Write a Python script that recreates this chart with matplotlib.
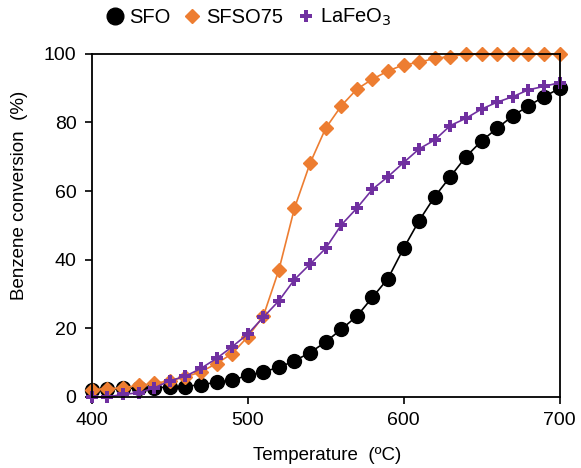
import matplotlib
matplotlib.use("Agg")
import matplotlib.pyplot as plt

plt.rcParams["font.family"] = ["Liberation Sans", "DejaVu Sans"]

temperature = list(range(400, 701, 10))

sfo = [2.0, 2.2, 2.5, 2.5, 2.7, 2.8, 3.0, 3.6, 4.2, 4.8, 6.3, 7.3, 8.6, 10.5, 12.9,
       16.0, 19.7, 23.5, 29.0, 34.5, 43.3, 51.4, 58.4, 64.2, 70.0, 74.6, 78.3,
       81.9, 84.8, 87.5, 89.9]
sfso75 = [2.1, 2.4, 2.6, 3.4, 3.9, 4.7, 5.8, 7.3, 9.7, 12.6, 17.5, 23.5, 37.0,
          55.0, 68.1, 78.3, 84.8, 89.7, 92.6, 95.0, 96.8, 97.5, 98.7, 99.2, 99.9,
          100.0, 100.0, 100.0, 100.0, 100.0, 100.0]
lafeo3 = [0.0, 0.0, 0.7, 1.2, 2.6, 4.7, 6.0, 8.3, 11.2, 14.6, 18.3, 23.2, 28.0,
          34.2, 38.7, 43.3, 50.1, 55.0, 60.5, 64.2, 68.3, 72.3, 74.9, 79.1, 81.2,
          83.9, 85.9, 87.5, 89.5, 90.5, 91.6]

fig = plt.figure(figsize=(5.81, 4.68), dpi=100)
ax = fig.add_axes([0.158, 0.152, 0.805, 0.733])

ax.plot(temperature, sfo, color="black", marker="o", markersize=10, lw=1.2,
        label="SFO", clip_on=False)
ax.plot(temperature, sfso75, color="#ED7D31", marker="D", markersize=7.5, lw=1.2,
        label="SFSO75", clip_on=False)
ax.plot(temperature, lafeo3, color="#7030A0", marker="P", markersize=9, lw=1.2,
        markeredgewidth=0, label="LaFeO$_3$", clip_on=False)

ax.set_xlim(400, 700)
ax.set_ylim(0, 100)
ax.set_xticks([400, 500, 600, 700])
ax.set_yticks([0, 20, 40, 60, 80, 100])
ax.tick_params(labelsize=14, length=5, width=1.2, direction="out", pad=6)
for sp in ax.spines.values():
    sp.set_linewidth(1.3)

ax.set_xlabel("Temperature  (ºC)", fontsize=13.5)
ax.set_ylabel("Benzene conversion  (%)", fontsize=13.5)
ax.xaxis.set_label_coords(0.503, -0.146)
ax.yaxis.set_label_coords(-0.136, 0.586)

leg = ax.legend(loc="center", bbox_to_anchor=(0.336, 1.105), ncol=3,
                frameon=False, fontsize=14.5, handlelength=0.8, handletextpad=0.3,
                columnspacing=0.7, borderaxespad=0, borderpad=0)
for h in leg.legend_handles:
    h.set_linestyle("none")
leg.legend_handles[0].set_markersize(12)

fig.savefig("out.png", dpi=100)
